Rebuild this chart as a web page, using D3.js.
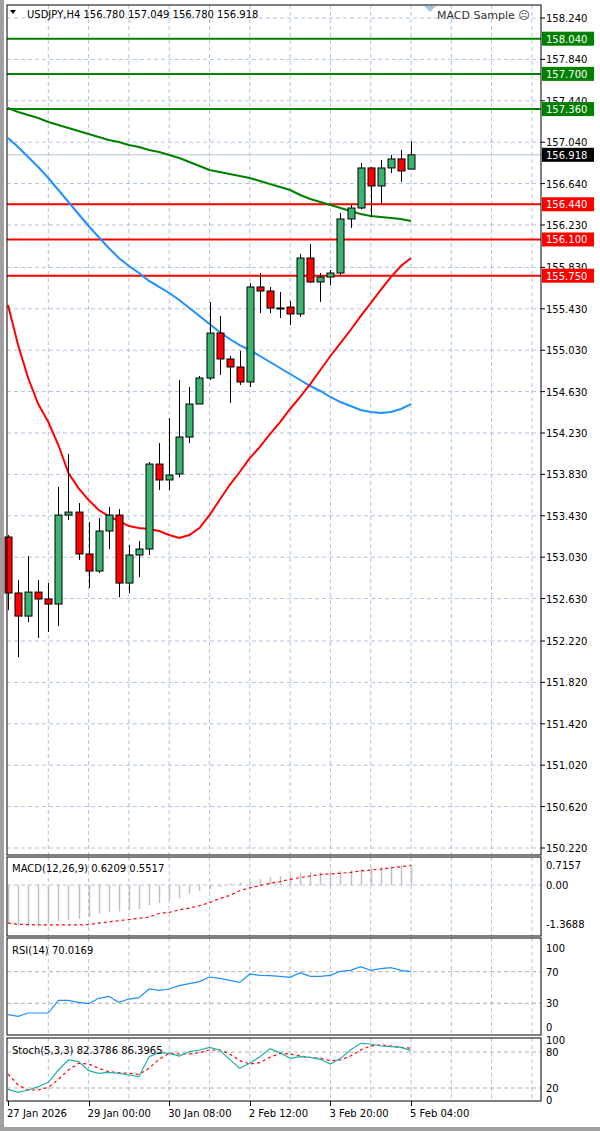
<!DOCTYPE html>
<html><head><meta charset="utf-8">
<script src="https://cdn.jsdelivr.net/npm/d3@7/dist/d3.min.js"></script>
<style>body{margin:0;background:#fff}svg{display:block}text{font-family:"DejaVu Sans",sans-serif;font-size:10px}</style>
</head><body><svg id="c" width="600" height="1131"></svg>
<script>
const open  = [153.225,152.684,152.461,152.693,152.626,152.577,153.437,153.466,153.061,152.896,153.283,153.437,152.780,153.051,153.109,153.930,153.776,153.834,154.191,154.510,154.761,155.196,154.945,154.868,154.723,155.641,155.602,155.438,155.447,155.380,155.921,155.689,155.737,155.776,156.298,156.404,156.791,156.617,156.791,156.878,156.780];
const high  = [153.244,152.809,153.041,152.809,152.780,153.708,154.027,153.553,153.370,153.408,153.515,153.495,153.148,153.186,153.950,154.133,154.375,154.742,154.674,154.781,155.496,155.360,154.974,155.022,155.679,155.776,155.641,155.592,155.505,155.960,156.056,155.776,155.805,156.356,156.433,156.839,156.800,156.868,156.916,156.964,157.049];
const low   = [152.519,152.065,152.403,152.249,152.307,152.365,153.389,153.003,152.732,152.877,153.109,152.645,152.684,152.838,153.051,153.679,153.679,153.800,154.133,154.510,154.742,154.790,154.520,154.694,154.674,155.389,155.389,155.341,155.273,155.351,155.679,155.496,155.660,155.750,156.211,156.390,156.317,156.443,156.742,156.655,156.780];
const close = [152.684,152.461,152.693,152.626,152.577,153.437,153.466,153.061,152.896,153.283,153.437,152.780,153.051,153.109,153.930,153.776,153.824,154.191,154.510,154.761,155.196,154.945,154.868,154.723,155.641,155.602,155.438,155.438,155.380,155.921,155.689,155.737,155.776,156.298,156.404,156.791,156.617,156.791,156.878,156.762,156.918];
const maGreen = [157.370,157.332,157.303,157.274,157.235,157.206,157.177,157.148,157.119,157.090,157.061,157.042,157.013,156.993,156.964,156.945,156.916,156.887,156.849,156.810,156.771,156.752,156.733,156.713,156.694,156.665,156.636,156.607,156.578,156.530,156.491,156.462,156.433,156.404,156.375,156.346,156.327,156.317,156.307,156.298,156.278];
const maBlue = [157.080,156.993,156.897,156.800,156.694,156.578,156.462,156.346,156.230,156.124,156.018,155.921,155.844,155.776,155.699,155.641,155.583,155.515,155.438,155.360,155.283,155.206,155.138,155.080,155.032,154.974,154.916,154.858,154.800,154.742,154.684,154.636,154.578,154.529,154.491,154.452,154.433,154.423,154.433,154.462,154.510];
const maRed = [155.467,155.080,154.761,154.510,154.336,154.114,153.843,153.698,153.582,153.486,153.428,153.379,153.331,153.312,153.302,153.283,153.244,153.215,153.244,153.312,153.437,153.582,153.727,153.853,153.988,154.095,154.220,154.336,154.462,154.578,154.703,154.839,154.974,155.099,155.225,155.360,155.486,155.612,155.737,155.844,155.921];
const greenLevels = [158.040,157.700,157.360];
const redLevels = [156.440,156.100,155.750];
const lastPrice = 156.918;
const priceTicks = [158.240,157.840,157.440,157.040,156.640,156.240,155.830,155.430,155.030,154.630,154.230,153.830,153.430,153.030,152.630,152.220,151.820,151.420,151.020,150.620,150.220];
const priceTickLabels = ["158.240","157.840","157.440","157.040","156.640","156.230","155.830","155.430","155.030","154.630","154.230","153.830","153.430","153.030","152.630","152.220","151.820","151.420","151.020","150.620","150.220"];
const macdHist = [-1.337,-1.421,-1.421,-1.368,-1.316,-1.263,-1.232,-1.189,-1.126,-1.0,-0.947,-0.926,-0.895,-0.842,-0.705,-0.632,-0.526,-0.453,-0.316,-0.211,-0.137,-0.074,0.053,0.084,0.105,0.211,0.284,0.316,0.347,0.421,0.453,0.453,0.474,0.495,0.516,0.558,0.600,0.632,0.663,0.684,0.705];
const macdSignal = [-1.337,-1.379,-1.389,-1.40,-1.40,-1.40,-1.40,-1.40,-1.389,-1.337,-1.295,-1.253,-1.211,-1.168,-1.126,-1.0,-0.958,-0.874,-0.811,-0.726,-0.621,-0.474,-0.368,-0.20,-0.10,-0.02,0.06,0.12,0.2,0.263,0.316,0.368,0.389,0.411,0.442,0.495,0.526,0.558,0.6,0.642,0.684];
const rsi = [15.6,13.5,17.7,17.7,17.7,33.8,33.8,31.2,29.5,36.3,38.8,31.2,35.4,37.1,48.1,46.4,48.1,52.3,54.9,57.4,63.3,61.6,59.1,56.5,67.1,65.4,65.0,64.1,62.9,68.8,64.1,64.1,65.4,70.5,71.7,76.4,71.7,73.8,75.1,71.7,70.0];
const stochK = [17.8,12.8,16.7,22.2,29.4,50.0,66.7,63.9,48.9,44.4,46.1,44.4,41.7,38.9,72.2,78.9,77.8,73.3,80.6,83.3,87.8,83.3,67.8,52.8,61.1,72.2,85.6,78.9,69.4,72.2,71.1,67.8,60.0,69.4,83.3,94.4,93.3,90.0,88.9,87.8,82.4];
const stochD = [43.3,25.0,16.7,16.7,21.1,34.4,50.0,61.1,60.0,52.8,47.2,45.6,44.4,42.8,52.8,67.8,77.8,76.7,76.7,78.9,83.3,83.3,76.7,65.6,60.0,62.2,71.1,77.8,76.7,73.3,71.1,69.4,65.6,66.7,73.3,83.3,90.0,91.7,90.0,87.8,86.4];
const dateLabels = ["27 Jan 2026","29 Jan 00:00","30 Jan 08:00","2 Feb 12:00","3 Feb 20:00","5 Feb 04:00"];
const dateIdx = [0,8,16,24,32,40];

const svg = d3.select("#c");
const L=7, R=541;
const x = d3.scaleLinear().domain([0,40]).range([8,411]);
const y = d3.scaleLinear().domain([150.220,158.240]).range([848,18]);
const gridC="#b0c4de";
const idx = d3.range(41);

// left gray strip
svg.append("rect").attr("x",0).attr("y",0).attr("width",4).attr("height",1131).attr("fill","#a0a0a0");
svg.append("rect").attr("x",0).attr("y",1127).attr("width",600).attr("height",4).attr("fill","#a0a0a0");

function panel(top,bot){
  svg.append("rect").attr("x",L).attr("y",top).attr("width",R-L).attr("height",bot-top).attr("fill","none").attr("stroke","#000");
}
function vgrid(top,bot){
  d3.range(4,53,4).forEach(i=>{
    svg.append("line").attr("x1",x(i)).attr("x2",x(i)).attr("y1",top).attr("y2",bot)
      .attr("stroke",gridC).attr("stroke-dasharray","4,3");
  });
}
// main panel
vgrid(5,855);
priceTicks.forEach((p,k)=>{
  svg.append("line").attr("x1",L).attr("x2",R).attr("y1",y(p)).attr("y2",y(p)).attr("stroke",gridC).attr("stroke-dasharray","4,3");
  svg.append("line").attr("x1",R).attr("x2",R+4).attr("y1",y(p)).attr("y2",y(p)).attr("stroke","#000");
  svg.append("text").attr("x",546).attr("y",y(p)+4).text(priceTickLabels[k]);
});
// last price line
svg.append("line").attr("x1",L).attr("x2",R).attr("y1",y(lastPrice)).attr("y2",y(lastPrice)).attr("stroke","#b0c4de");
// levels
greenLevels.forEach(p=>svg.append("line").attr("x1",L).attr("x2",R).attr("y1",y(p)).attr("y2",y(p)).attr("stroke","#008000").attr("stroke-width",2));
redLevels.forEach(p=>svg.append("line").attr("x1",L).attr("x2",R).attr("y1",y(p)).attr("y2",y(p)).attr("stroke","#ff0000").attr("stroke-width",2));
// MAs
const line = arr => d3.line().x((d,i)=>x(i)).y(d=>y(d))(arr);
svg.append("path").attr("d",line(maGreen)).attr("fill","none").attr("stroke","#008000").attr("stroke-width",2);
svg.append("path").attr("d",line(maBlue)).attr("fill","none").attr("stroke","#1e90ff").attr("stroke-width",2);
svg.append("path").attr("d",line(maRed)).attr("fill","none").attr("stroke","#ff0000").attr("stroke-width",2);
// candles
idx.forEach(i=>{
  const up = close[i]>=open[i];
  svg.append("line").attr("x1",Math.round(x(i))+0.5).attr("x2",Math.round(x(i))+0.5).attr("y1",y(high[i])).attr("y2",y(low[i])).attr("stroke","#000");
  const t=y(Math.max(open[i],close[i])), b=y(Math.min(open[i],close[i]));
  svg.append("rect").attr("x",Math.round(x(i))-3).attr("y",t).attr("width",7).attr("height",Math.max(1,b-t))
    .attr("fill",up?"#3cb371":"#ff0000").attr("stroke","#000");
});
panel(5,855);
// header
svg.append("path").attr("d","M10,10 L16,10 L13,14 Z").attr("fill","#000");
svg.append("text").attr("x",27).attr("y",18).text("USDJPY,H4  156.780 157.049 156.780 156.918");
svg.append("path").attr("d","M424,6 L436,6 L430,12 Z").attr("fill","#b0c4de");
svg.append("text").attr("x",437).attr("y",19).attr("fill","#333").style("font-size","11px").text("MACD Sample \u2639");
// level labels
function tag(p,bg,label){
  svg.append("rect").attr("x",542).attr("y",y(p)-7).attr("width",52).attr("height",14).attr("fill",bg);
  svg.append("text").attr("x",546).attr("y",y(p)+4).attr("fill","#fff").text(label);
}
greenLevels.forEach(p=>tag(p,"#008000",p.toFixed(3)));
redLevels.forEach(p=>tag(p,"#ff0000",p.toFixed(3)));
tag(lastPrice,"#000",lastPrice.toFixed(3));

// MACD panel
const ym = d3.scaleLinear().domain([0,0.7157]).range([885,864.6]);
vgrid(857,936);
svg.append("line").attr("x1",L).attr("x2",R).attr("y1",ym(0)).attr("y2",ym(0)).attr("stroke",gridC).attr("stroke-dasharray","4,3");
macdHist.forEach((v,i)=>svg.append("line").attr("x1",Math.round(x(i))+0.5).attr("x2",Math.round(x(i))+0.5).attr("y1",ym(0)).attr("y2",ym(v)).attr("stroke","#c0c0c0").attr("stroke-width",1.5));
svg.append("path").attr("d",d3.line().x((d,i)=>x(i)).y(d=>ym(d))(macdSignal)).attr("fill","none").attr("stroke","#ff0000").attr("stroke-dasharray","3,3").attr("stroke-width",1.2);
panel(857,936);
svg.append("text").attr("x",12).attr("y",872).text("MACD(12,26,9) 0.6209 0.5517");
[[0.7157,"0.7157"],[0,"0.00"],[-1.3688,"-1.3688"]].forEach(([v,t])=>svg.append("text").attr("x",546).attr("y",ym(v)+4).text(t));

// RSI panel
const yr = d3.scaleLinear().domain([0,100]).range([1027,948]);
vgrid(938,1035);
[70,30].forEach(v=>svg.append("line").attr("x1",L).attr("x2",R).attr("y1",yr(v)).attr("y2",yr(v)).attr("stroke","#b0b0b0").attr("stroke-dasharray","4,3"));
svg.append("path").attr("d",d3.line().x((d,i)=>x(i)).y(d=>yr(d))(rsi)).attr("fill","none").attr("stroke","#1e90ff").attr("stroke-width",1.2);
panel(938,1035);
svg.append("text").attr("x",12).attr("y",954).text("RSI(14) 70.0169");
[100,70,30,0].forEach(v=>svg.append("text").attr("x",546).attr("y",yr(v)+4).text(v));

// Stoch panel
const ys = d3.scaleLinear().domain([0,100]).range([1100,1040]);
vgrid(1038,1101);
[80,20].forEach(v=>svg.append("line").attr("x1",L).attr("x2",R).attr("y1",ys(v)).attr("y2",ys(v)).attr("stroke","#b0b0b0").attr("stroke-dasharray","4,3"));
svg.append("path").attr("d",d3.line().x((d,i)=>x(i)).y(d=>ys(d))(stochD)).attr("fill","none").attr("stroke","#ff0000").attr("stroke-dasharray","3,3").attr("stroke-width",1.2);
svg.append("path").attr("d",d3.line().x((d,i)=>x(i)).y(d=>ys(d))(stochK)).attr("fill","none").attr("stroke","#20b2aa").attr("stroke-width",1.2);
panel(1038,1101);
svg.append("text").attr("x",12).attr("y",1054).text("Stoch(5,3,3) 82.3786 86.3965");
[100,80,20,0].forEach(v=>svg.append("text").attr("x",546).attr("y",ys(v)+4).text(v));

// date axis
dateIdx.forEach((i,k)=>{
  svg.append("line").attr("x1",Math.round(x(i))+0.5).attr("x2",Math.round(x(i))+0.5).attr("y1",1101).attr("y2",1106).attr("stroke","#000");
  svg.append("text").attr("x",x(i)-1).attr("y",1117).text(dateLabels[k]);
});
</script></body></html>
